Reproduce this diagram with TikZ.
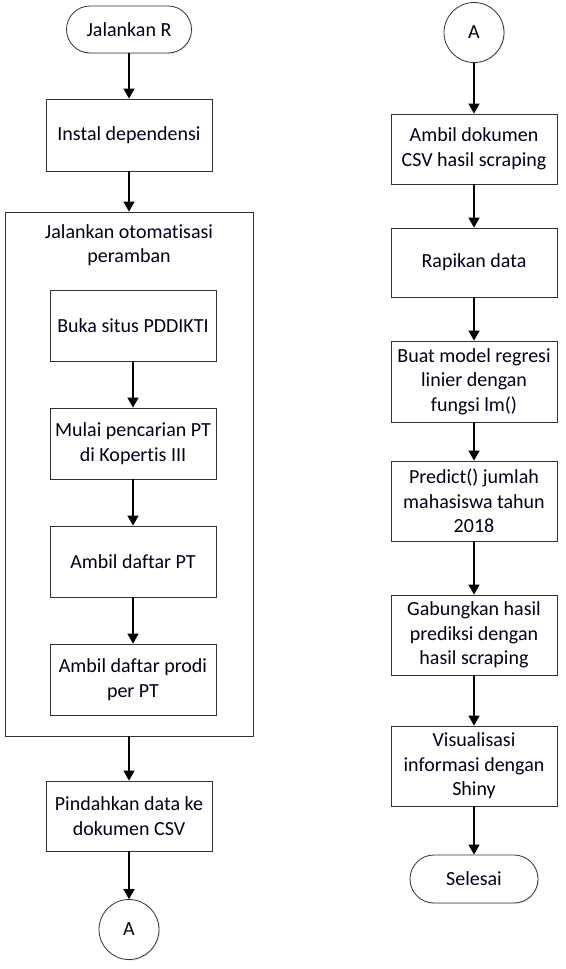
\documentclass[tikz,border=0pt]{standalone}
\usepackage{fontspec}
\setmainfont[Ligatures=NoCommon]{Carlito}
\usetikzlibrary{arrows.meta,shadows}
\begin{document}
\begin{tikzpicture}[x=1pt,y=-1pt,
  txt/.style={font=\fontsize{20}{24.5}\selectfont, align=center, text=black!90!blue},
  shad/.style={drop shadow={shadow xshift=1.2pt, shadow yshift=-1.2pt, fill=black!15}},
  box/.style={txt, draw=black!80, line width=0.8pt, fill=white, shad, minimum width=166pt, inner sep=0pt},
  term/.style={txt, draw=black!80, line width=0.8pt, fill=white, shad, inner sep=0pt},
  conn/.style={txt, circle, draw=black!80, line width=0.8pt, fill=white, shad, minimum size=60pt, inner sep=0pt},
  arr/.style={-{Triangle[length=10pt,width=11pt]}, line width=1.4pt, black}
]
\useasboundingbox (0,0) rectangle (565,969);
% container
\node[draw=black!80, line width=0.8pt, fill=white, shad, minimum width=248pt, minimum height=524pt, inner sep=0pt] (cont) at (129,474) {};
\node[txt, anchor=north] (conttitle) at (129,221) {Jalankan otomatisasi\\peramban};
% left column
\node[term, minimum width=125pt, minimum height=47pt, rounded corners=23.5pt] (start) at (129,29.5) {Jalankan R};
\node[box, minimum height=72pt] (inst) at (129,135) {Instal dependensi};
\node[box, minimum height=71pt] (buka) at (133,325.5) {Buka situs PDDIKTI};
\node[box, minimum height=71pt] (mulai) at (133,443.5) {Mulai pencarian PT\\di Kopertis III};
\node[box, minimum height=71pt] (ambilpt) at (133,561.5) {Ambil daftar PT};
\node[box, minimum height=71pt] (prodi) at (133,679.5) {Ambil daftar prodi\\per PT};
\node[box, minimum height=70pt] (pindah) at (129,816) {Pindahkan data ke\\dokumen CSV};
\node[conn] (a1) at (129,929.5) {A};
% right column
\node[conn] (a2) at (474,32.5) {A};
\node[box, minimum height=70pt] (dok) at (474,149) {Ambil dokumen\\CSV hasil scraping};
\node[box, minimum height=69pt] (rapi) at (474,262.5) {Rapikan data};
\node[box, minimum height=81pt] (model) at (474,381.5) {Buat model regresi\\linier dengan\\fungsi lm()};
\node[box, minimum height=80pt] (pred) at (474,501) {Predict() jumlah\\mahasiswa tahun\\2018};
\node[box, minimum height=80pt] (gab) at (474,635) {Gabungkan hasil\\prediksi dengan\\hasil scraping};
\node[box, minimum height=80pt] (vis) at (474,766) {Visualisasi\\informasi dengan\\Shiny};
\node[term, minimum width=128pt, minimum height=48pt, rounded corners=24pt] (end) at (474,879) {Selesai};
% arrows
\draw[arr] (start) -- (inst);
\draw[arr] (inst) -- (cont);
\draw[arr] (buka) -- (mulai);
\draw[arr] (mulai) -- (ambilpt);
\draw[arr] (ambilpt) -- (prodi);
\draw[arr] (cont) -- (pindah);
\draw[arr] (pindah) -- (a1);
\draw[arr] (a2) -- (dok);
\draw[arr] (dok) -- (rapi);
\draw[arr] (rapi) -- (model);
\draw[arr] (model) -- (pred);
\draw[arr] (pred) -- (gab);
\draw[arr] (gab) -- (vis);
\draw[arr] (vis) -- (end);
\end{tikzpicture}
\end{document}
